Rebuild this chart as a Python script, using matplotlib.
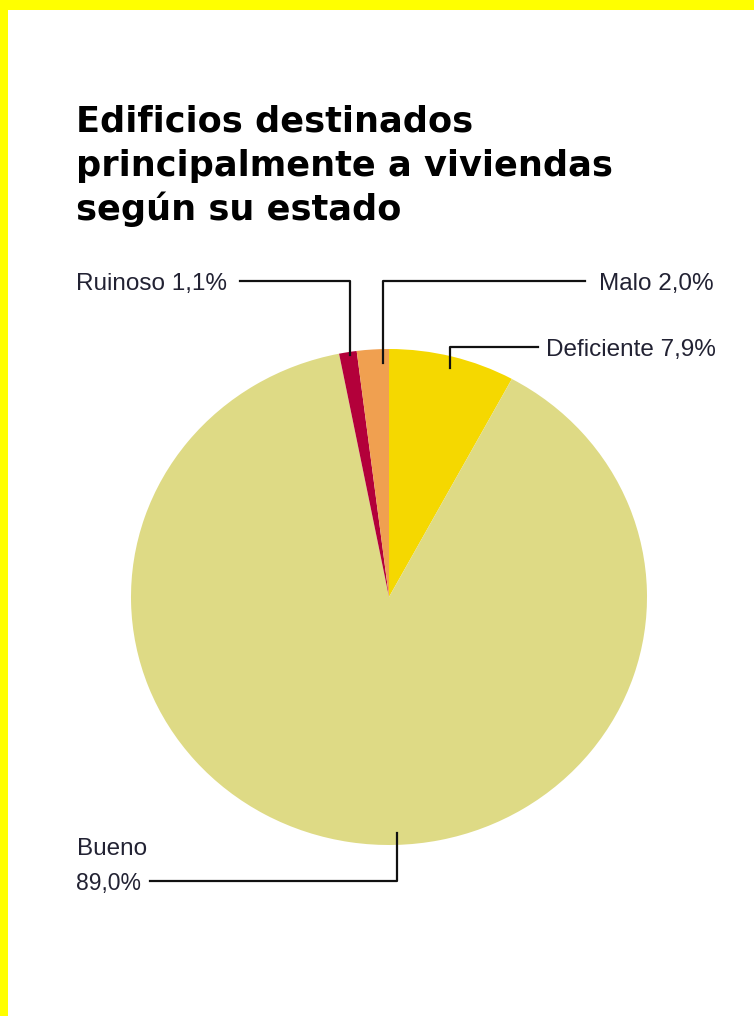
import matplotlib

matplotlib.use("Agg")
import matplotlib.pyplot as plt
from matplotlib.patches import Rectangle

# data: clockwise from 12 o'clock
categories = ["Deficiente", "Bueno", "Ruinoso", "Malo"]
shares = [7.9, 89.0, 1.1, 2.0]
colors = ["#F5D800", "#DEDA85", "#B3003A", "#F0A050"]
labels = {
    "Ruinoso": "Ruinoso 1,1%",
    "Malo": "Malo 2,0%",
    "Deficiente": "Deficiente 7,9%",
    "Bueno": "Bueno",
    "Bueno_pct": "89,0%",
}
title_lines = ["Edificios destinados", "principalmente a viviendas", "según su estado"]

W, H = 754, 1016
LABEL_FONT = ["Liberation Sans", "DejaVu Sans"]
INK = "#111111"

fig = plt.figure(figsize=(W / 100, H / 100), dpi=100)
fig.patch.set_facecolor("white")

# pie, slightly squashed like the reference
cx, cy, rx, ry = 389, 597, 258, 248
pax = fig.add_axes([(cx - rx) / W, (H - cy - ry) / H, 2 * rx / W, 2 * ry / H])
pax.pie(shares, colors=colors, startangle=90, counterclock=False,
        wedgeprops=dict(linewidth=0))
pax.set_aspect("auto")
pax.set_xlim(-1, 1)
pax.set_ylim(-1, 1)
pax.axis("off")

# overlay in pixel coordinates for frame, title and leader lines
ov = fig.add_axes([0, 0, 1, 1], zorder=5)
ov.set_xlim(0, W)
ov.set_ylim(H, 0)
ov.axis("off")
ov.patch.set_alpha(0)

ov.add_patch(Rectangle((0, 0), W, 10, color="#FFFF00", lw=0))
ov.add_patch(Rectangle((0, 0), 8, H, color="#FFFF00", lw=0))

for line, yb in zip(title_lines, [132, 176, 220]):
    ov.text(76, yb, line, fontsize=25.3, fontweight="bold", va="baseline",
            ha="left", family=["DejaVu Sans"], color="#000000")

lw = 1.6
ov.plot([240, 350, 350], [281, 281, 355], color=INK, lw=lw)
ov.plot([383, 383, 585], [363, 281, 281], color=INK, lw=lw)
ov.plot([450, 450, 538], [368, 347, 347], color=INK, lw=lw)
ov.plot([150, 397, 397], [881, 881, 833], color=INK, lw=lw)

kw = dict(fontsize=17.5, family=LABEL_FONT, color="#222233", va="baseline")
ov.text(76, 290, labels["Ruinoso"], ha="left", **kw)
ov.text(714, 290, labels["Malo"], ha="right", **kw)
ov.text(716, 356, labels["Deficiente"], ha="right", **kw)
ov.text(77, 855, labels["Bueno"], ha="left", **kw)
ov.text(76, 890, labels["Bueno_pct"], ha="left", fontsize=16.5,
        family=LABEL_FONT, color="#222233", va="baseline")

fig.savefig("out.png", dpi=100, facecolor="white")
